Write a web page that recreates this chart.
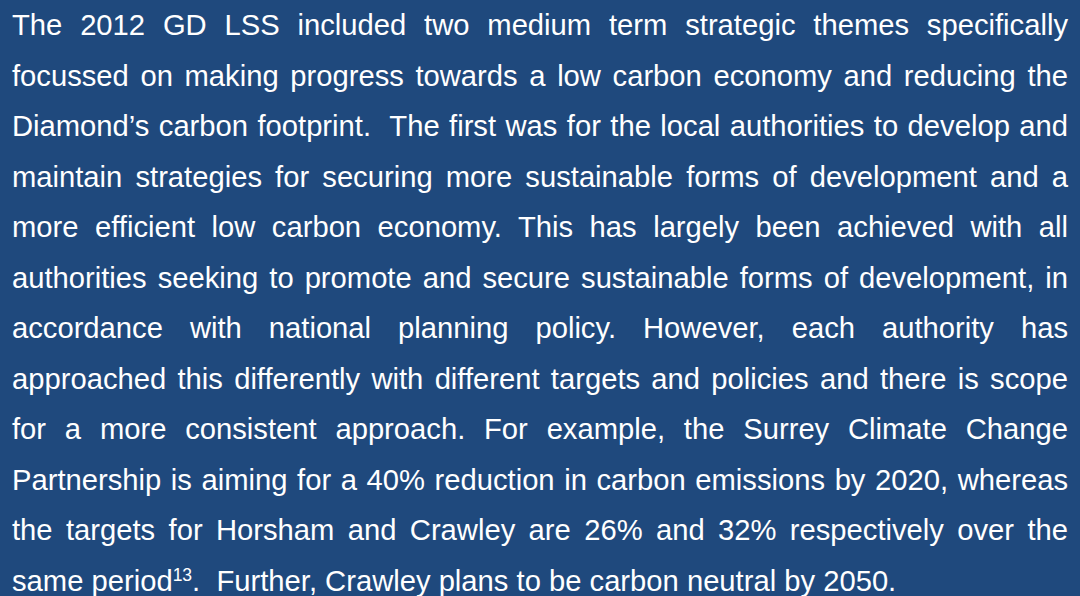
<!DOCTYPE html>
<html>
<head>
    <title>GD LSS - Low carbon themes</title>
    <script src="https://cdn.jsdelivr.net/npm/chart.js"></script>
    <style>
        html, body {
            margin: 0;
            padding: 0;
            background: #1F497D;
        }
        body {
            width: 1080px;
            height: 596px;
            overflow: hidden;
        }
        #text {
            position: absolute;
            left: 12px;
            top: 0px;
            width: 1056px;
            color: #ffffff;
            font-family: "Liberation Sans", Arial, Helvetica, sans-serif;
            font-size: 29.2px;
            line-height: 50.5px;
        }
        .line {
            height: 50.5px;
            white-space: pre;
        }
        .line span {
            display: inline-block;
        }
        sup {
            font-size: 17.5px;
            line-height: 0;
            vertical-align: 10px;
        }
    </style>
</head>
<body>
    <div id="text"></div>

    <script>
        const TEXT_WIDTH = 1056;

        // Paragraph lines as they break in the original ({n} = footnote)
        const lines = [
            'The 2012 GD LSS included two medium term strategic themes specifically',
            'focussed on making progress towards a low carbon economy and reducing the',
            'Diamond\u2019s carbon footprint.  The first was for the local authorities to develop and',
            'maintain strategies for securing more sustainable forms of development and a',
            'more efficient low carbon economy. This has largely been achieved with all',
            'authorities seeking to promote and secure sustainable forms of development, in',
            'accordance with national planning policy. However, each authority has',
            'approached this differently with different targets and policies and there is scope',
            'for a more consistent approach. For example, the Surrey Climate Change',
            'Partnership is aiming for a 40% reduction in carbon emissions by 2020, whereas',
            'the targets for Horsham and Crawley are 26% and 32% respectively over the',
            'same period{13}.  Further, Crawley plans to be carbon neutral by 2050.'
        ];

        const box = document.getElementById('text');
        const spans = lines.map(txt => {
            const div = document.createElement('div');
            div.className = 'line';
            const span = document.createElement('span');
            txt.split(/\{(\d+)\}/).forEach((p, j) => {
                if (j % 2 === 1) {
                    const sup = document.createElement('sup');
                    sup.textContent = p;
                    span.appendChild(sup);
                } else {
                    span.appendChild(document.createTextNode(p));
                }
            });
            div.appendChild(span);
            box.appendChild(div);
            return span;
        });

        // justify every line but the last by spreading the spaces
        function justify() {
            spans.forEach((span, i) => {
                if (i === spans.length - 1) return;
                const gaps = (lines[i].match(/ /g) || []).length;
                span.style.wordSpacing = '0px';
                const w = span.getBoundingClientRect().width;
                span.style.wordSpacing = ((TEXT_WIDTH - w) / gaps) + 'px';
            });
        }
        justify();
        document.fonts.ready.then(justify);
    </script>
</body>
</html>
